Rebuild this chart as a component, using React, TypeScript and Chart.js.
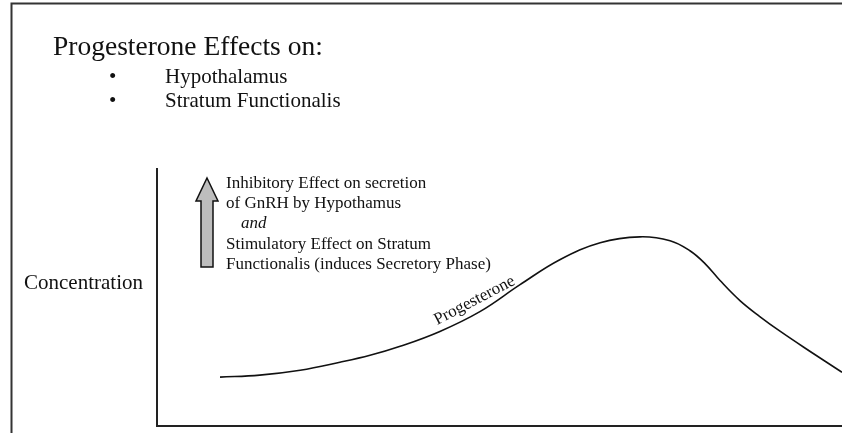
import React, { useEffect, useRef } from 'react';
import { Chart, registerables } from 'chart.js';

Chart.register(...registerables);

// ---- data (arbitrary units) ----
const cycleX = [9.2, 15.0, 20.9, 26.7, 31.1, 35.5, 41.3, 47.2, 53.0, 58.8, 64.7, 70.5, 74.9, 77.8, 80.0, 82.2, 85.1, 88.0, 91.0, 95.3, 100];
const progesterone = [19.0, 19.8, 21.7, 24.8, 27.5, 31.0, 36.8, 44.6, 55.0, 64.7, 71.3, 73.6, 72.1, 68.2, 63.2, 56.6, 48.8, 42.6, 36.8, 29.1, 20.9];

const titleText = 'Progesterone Effects on:';
const bulletItems = ['Hypothalamus', 'Stratum Functionalis'];
const effectLines = [
  'Inhibitory Effect on secretion',
  'of GnRH by Hypothamus',
  'and',
  'Stimulatory Effect on Stratum',
  'Functionalis (induces Secretory Phase)',
];
const yAxisLabel = 'Concentration';
const curveLabel = 'Progesterone';

const SERIF = '"Liberation Serif", "Times New Roman", serif';

const decorPlugin = {
  id: 'decor',
  beforeDraw(chart: any) {
    const ctx = chart.ctx;
    ctx.save();
    ctx.fillStyle = '#ffffff';
    ctx.fillRect(0, 0, chart.width, chart.height);
    ctx.strokeStyle = '#333333';
    ctx.lineWidth = 2;
    ctx.beginPath();
    ctx.moveTo(11.5, chart.height);
    ctx.lineTo(11.5, 3.5);
    ctx.lineTo(chart.width, 3.5);
    ctx.stroke();
    ctx.restore();
  },
  afterDraw(chart: any) {
    const ctx = chart.ctx;
    ctx.save();
    ctx.fillStyle = '#111111';
    ctx.textAlign = 'left';
    ctx.textBaseline = 'alphabetic';

    // title
    ctx.font = `27.5px ${SERIF}`;
    ctx.fillText(titleText, 53, 55);

    // bullets
    ctx.font = `21px ${SERIF}`;
    const bulletBase = [83, 107];
    bulletItems.forEach((t, i) => {
      ctx.fillText('\u2022', 109, bulletBase[i]);
      ctx.fillText(t, 165, bulletBase[i]);
    });

    // y-axis label
    ctx.font = `21px ${SERIF}`;
    ctx.fillText(yAxisLabel, 24, 289);

    // effect text
    const effBase = [188, 208, 228, 249, 269];
    effectLines.forEach((t, i) => {
      if (i === 2) {
        ctx.font = `italic 17px ${SERIF}`;
        ctx.fillText(t, 241, effBase[i]);
      } else {
        ctx.font = `17px ${SERIF}`;
        ctx.fillText(t, 226, effBase[i]);
      }
    });

    // arrow
    ctx.beginPath();
    ctx.moveTo(207, 178);
    ctx.lineTo(218, 201);
    ctx.lineTo(213, 201);
    ctx.lineTo(213, 267);
    ctx.lineTo(201, 267);
    ctx.lineTo(201, 201);
    ctx.lineTo(196, 201);
    ctx.closePath();
    ctx.fillStyle = '#bdbdbd';
    ctx.fill();
    ctx.strokeStyle = '#111111';
    ctx.lineWidth = 1.5;
    ctx.stroke();

    // curve label
    const xs = chart.scales.x;
    const ys = chart.scales.y;
    const px = xs.getPixelForValue(40.9);
    const py = ys.getPixelForValue(39.3);
    ctx.translate(px, py);
    ctx.rotate(-0.48);
    ctx.fillStyle = '#111111';
    ctx.font = `17px ${SERIF}`;
    ctx.fillText(curveLabel, 0, 0);
    ctx.restore();
  },
};

export default function App() {
  const ref = useRef<HTMLCanvasElement | null>(null);
  useEffect(() => {
    if (!ref.current) return;
    const chart = new Chart(ref.current, {
      type: 'line',
      data: {
        datasets: [
          {
            label: curveLabel,
            data: cycleX.map((x, i) => ({ x, y: progesterone[i] })),
            borderColor: '#111111',
            borderWidth: 1.6,
            pointRadius: 0,
            tension: 0.4,
            fill: false,
          },
        ],
      },
      options: {
        responsive: false,
        animation: false,
        events: [],
        layout: { padding: { left: 157, top: 169, right: 0, bottom: 7 } },
        plugins: { legend: { display: false }, tooltip: { enabled: false }, title: { display: false } },
        scales: {
          x: {
            type: 'linear',
            min: 0,
            max: 100,
            ticks: { display: false },
            grid: { display: false, drawTicks: false },
            border: { display: true, color: '#222222', width: 2 },
            afterFit: (s: any) => { s.height = 0; },
          },
          y: {
            type: 'linear',
            min: 0,
            max: 100,
            ticks: { display: false },
            grid: { display: false, drawTicks: false },
            border: { display: true, color: '#222222', width: 2 },
            afterFit: (s: any) => { s.width = 0; },
          },
        },
      },
      plugins: [decorPlugin],
    } as any);
    return () => chart.destroy();
  }, []);
  return (
    <div style={{ position: 'absolute', left: 0, top: 0, width: 842, height: 433 }}>
      <canvas ref={ref} width={842} height={433} style={{ display: 'block', width: 842, height: 433 }} />
    </div>
  );
}
